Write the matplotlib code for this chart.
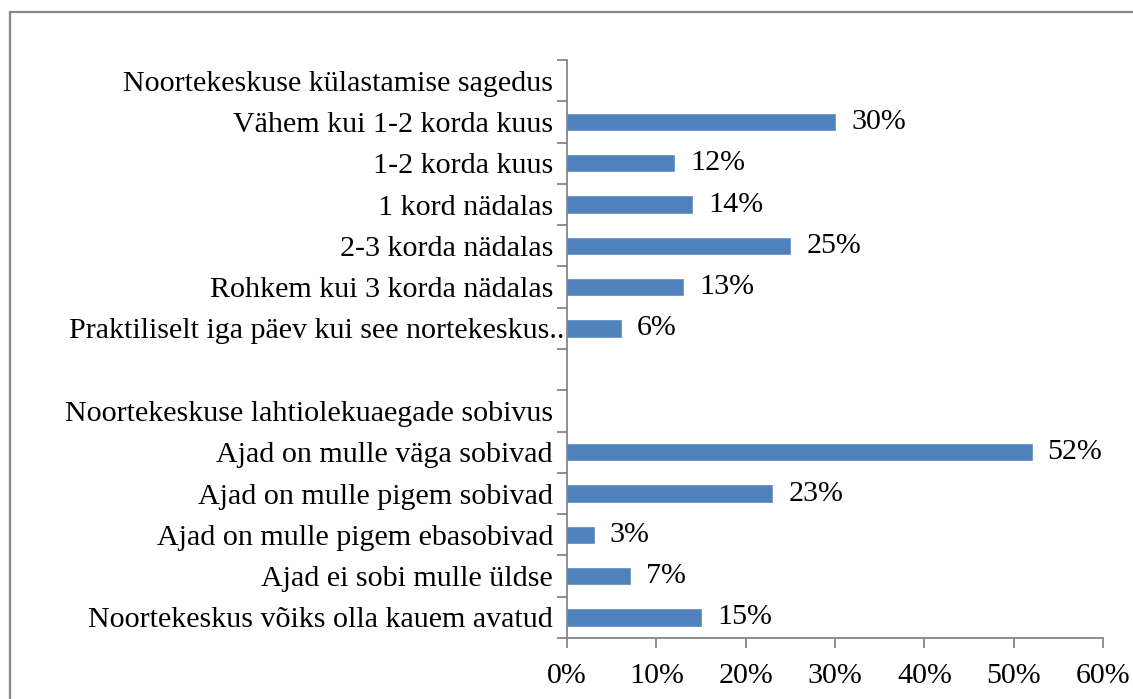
import matplotlib
matplotlib.use("Agg")
import matplotlib.pyplot as plt
from matplotlib.patches import Rectangle
from matplotlib.ticker import FixedLocator, PercentFormatter
from matplotlib.transforms import ScaledTranslation

categories = [
    "Noortekeskuse külastamise sagedus",
    "Vähem kui 1-2 korda kuus",
    "1-2 korda kuus",
    "1 kord nädalas",
    "2-3 korda nädalas",
    "Rohkem kui 3 korda nädalas",
    "Praktiliselt iga päev kui see nortekeskus..",
    "",
    "Noortekeskuse lahtiolekuaegade sobivus",
    "Ajad on mulle väga sobivad",
    "Ajad on mulle pigem sobivad",
    "Ajad on mulle pigem ebasobivad",
    "Ajad ei sobi mulle üldse",
    "Noortekeskus võiks olla kauem avatud",
]
values = [None, 30, 12, 14, 25, 13, 6, None, None, 52, 23, 3, 7, 15]
x_ticks = [0, 10, 20, 30, 40, 50, 60]

plt.rcParams['font.family'] = ['Liberation Serif', 'DejaVu Serif']
FS = 21.6

fig = plt.figure(figsize=(11.33, 6.99), dpi=100)
ax = fig.add_axes([567/1133, 1-638/699, (1103-567)/1133, (638-60)/699])

bar_color = "#4F81BD"
n = len(categories)
for i, v in enumerate(values):
    if v is None:
        continue
    ax.barh(i, v, height=0.4, color=bar_color, edgecolor="#6E96C8", linewidth=0.6)
    ax.text(v + 1.8, i, f"{v}%", va="center", ha="left", fontsize=FS)

ax.set_ylim(n - 0.5, -0.5)
ax.set_xlim(0, 60)
ax.set_yticks(range(n))
ax.set_yticklabels(categories, fontsize=FS)
ax.yaxis.set_minor_locator(FixedLocator([i - 0.5 for i in range(n + 1)]))
ax.tick_params(axis="y", which="major", length=0, pad=10)
ax.tick_params(axis="y", which="minor", length=7, width=1.3, color="#868686", direction="out")
ax.set_xticks(x_ticks)
ax.xaxis.set_major_formatter(PercentFormatter(decimals=0))
ax.tick_params(axis="x", which="major", length=7, width=1.3, color="#868686", labelsize=FS, pad=11)

# the long label overflows towards the axis as in the reference
long_lbl = ax.get_yticklabels()[6]
long_lbl.set_transform(long_lbl.get_transform() + ScaledTranslation(11/100, 0, fig.dpi_scale_trans))

for s in ["top", "right"]:
    ax.spines[s].set_visible(False)
for s in ["left", "bottom"]:
    ax.spines[s].set_color("#868686")
    ax.spines[s].set_linewidth(1.3)

fig.patches.append(Rectangle((10/1133, -0.05), 1.1, 1 - 12/699 + 0.05,
                             transform=fig.transFigure, fill=False,
                             edgecolor="#888888", linewidth=1.6))

fig.savefig("out.png", dpi=100)
